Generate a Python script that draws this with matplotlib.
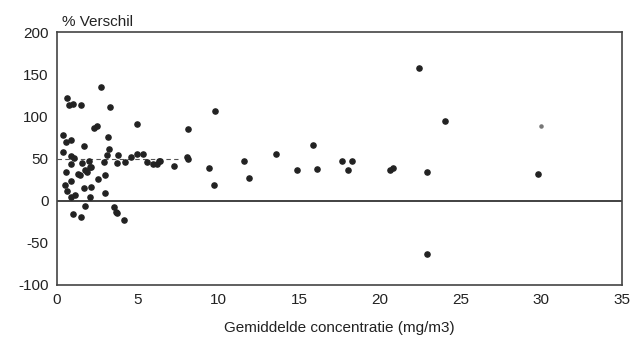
import numpy as np
import matplotlib.pyplot as plt

plt.rcParams['font.family'] = ['Liberation Sans', 'DejaVu Sans']
plt.rcParams['axes.unicode_minus'] = False

# Gemiddelde concentratie (mg/m3) en % verschil
conc = [2.71, 0.60, 0.74, 0.97, 1.47, 3.28, 4.98, 2.31, 2.46, 0.39,
        0.56, 0.85, 1.69, 3.14, 3.20, 0.35, 0.85, 1.05, 1.53, 2.00,
        0.89, 2.04, 2.93, 3.08, 3.80, 3.70, 4.21, 4.58, 4.98, 5.35,
        5.60, 5.97, 6.18, 6.34, 0.54, 1.28, 1.42, 1.73, 1.84, 2.10,
        3.00, 2.52, 0.87, 0.50, 1.69, 2.10, 0.60, 0.87, 1.10, 2.04,
        2.97, 1.73, 3.55, 3.66, 3.74, 1.01, 1.47, 4.15,
        9.79, 8.10, 15.84, 13.57, 6.38, 7.25, 8.07, 8.14, 9.40, 9.73,
        11.60, 11.92, 14.85, 16.10, 17.66, 18.30, 18.00,
        22.43, 24.06, 20.60, 20.84, 22.92, 29.80, 22.90]
verschil = [135, 122, 113, 115, 114, 111, 91, 86, 88, 78,
            70, 72, 65, 76, 61, 58, 53, 51, 45, 47,
            43.5, 39.5, 46, 54.6, 54.6, 45, 46, 52, 55, 55,
            46, 44, 43, 47, 34, 32, 30, 36, 34, 40,
            30, 26, 23, 18, 15, 16, 11, 4, 7, 4,
            9, -6, -7, -13, -15, -16, -19, -23,
            106, 85, 66, 55, 47, 41.5, 52, 49, 39, 19,
            47, 27, 36, 38, 47, 47, 36,
            157, 95, 36, 39, 34, 32, -63]
faint_conc = [30.0]
faint_verschil = [88]

fig = plt.figure(figsize=(6.33, 3.48), dpi=100)
ax = fig.add_axes([57 / 633, 1 - 285 / 348, 565 / 633, 253 / 348])

ax.scatter(conc, verschil, s=14, color='#222222', zorder=3)
ax.scatter(faint_conc, faint_verschil, s=5, color='#777777', zorder=3)
ax.axhline(0, color='#333333', lw=1.3)
ax.plot([0, 7.5], [50, 50], color='#555555', lw=0.8, ls=(0, (4, 3)))

ax.set_xlim(0, 35)
ax.set_ylim(-100, 200)
ax.set_xticks(range(0, 36, 5))
ax.set_yticks(range(-100, 201, 50))
ax.tick_params(length=0, labelsize=11, colors='#222222', pad=6)
for s in ax.spines.values():
    s.set_color('#444444')
    s.set_linewidth(1.2)

ax.text(0.3, 203, '% Verschil', fontsize=11, color='#222222', va='bottom')
ax.set_xlabel('Gemiddelde concentratie (mg/m3)', fontsize=11, color='#222222', labelpad=10)

fig.savefig('out.png', dpi=100)
